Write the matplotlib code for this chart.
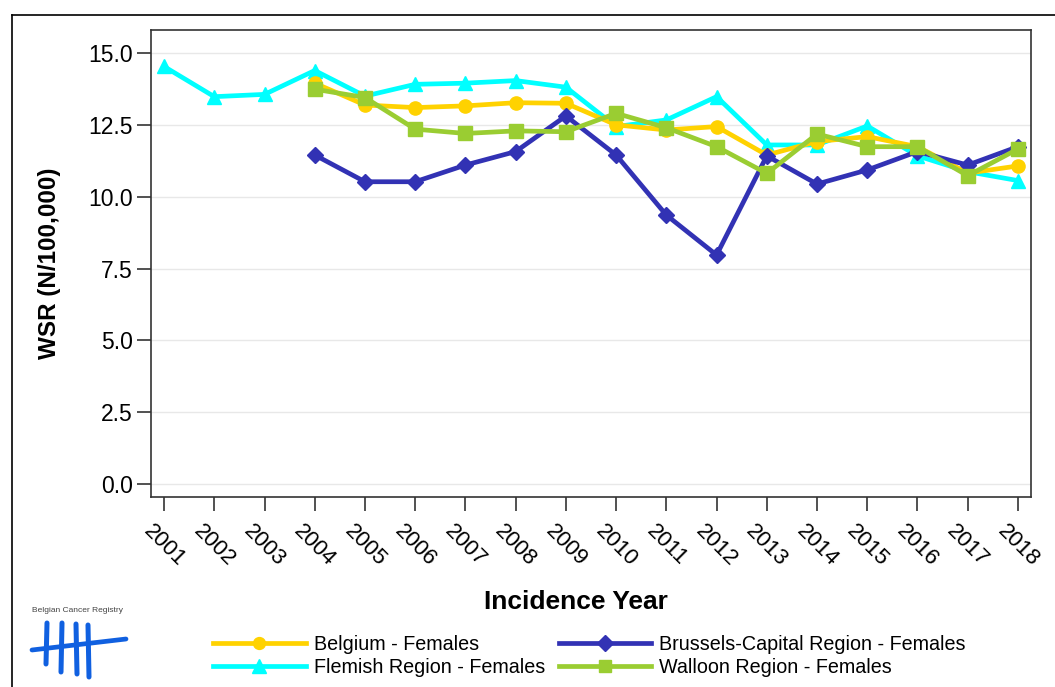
import matplotlib
matplotlib.use("Agg")
import matplotlib.pyplot as plt
from matplotlib.lines import Line2D

plt.rcParams['font.family'] = ['Liberation Sans', 'DejaVu Sans']

years = list(range(2001, 2019))
years_b = list(range(2004, 2019))

belgium = [13.95, 13.19, 13.10, 13.16, 13.27, 13.25, 12.50, 12.32, 12.44, 11.45, 11.92, 12.09, 11.74, 10.82, 11.07]
brussels = [11.45, 10.52, 10.52, 11.10, 11.57, 12.81, 11.45, 9.36, 7.97, 11.42, 10.44, 10.93, 11.57, 11.10, 11.74]
flemish = [14.53, 13.48, 13.56, 14.39, 13.50, 13.91, 13.95, 14.04, 13.81, 12.44, 12.67, 13.48, 11.80, 11.80, 12.46, 11.42, 10.87, 10.56]
walloon = [13.74, 13.45, 12.35, 12.20, 12.29, 12.26, 12.90, 12.40, 11.74, 10.81, 12.18, 11.74, 11.74, 10.73, 11.66]

labels = ["Belgium - Females", "Brussels-Capital Region - Females",
          "Flemish Region - Females", "Walloon Region - Females"]
yticks = [0.0, 2.5, 5.0, 7.5, 10.0, 12.5, 15.0]

c_bel = "#FFD200"
c_bru = "#3232B4"
c_fle = "#00FFFF"
c_wal = "#9ACD32"

W, H = 1055, 687
fig = plt.figure(figsize=(W / 100, H / 100), dpi=100)
ax = fig.add_axes([151 / W, 1 - 497 / H, (1031 - 151) / W, (497 - 30) / H])

lw = 3.4
ms = 9.5
l_fle, = ax.plot(years, flemish, color=c_fle, lw=lw, marker='^', ms=ms + 1, label=labels[2], zorder=3)
l_bel, = ax.plot(years_b, belgium, color=c_bel, lw=lw, marker='o', ms=ms, label=labels[0], zorder=4)
l_bru, = ax.plot(years_b, brussels, color=c_bru, lw=lw, marker='D', ms=ms - 1, label=labels[1], zorder=5)
l_wal, = ax.plot(years_b, walloon, color=c_wal, lw=lw, marker='s', ms=ms, label=labels[3], zorder=6)

ax.set_xlim(2000.74, 2018.26)
ax.set_ylim(-0.45, 15.8)
ax.set_yticks(yticks)
ax.set_yticklabels([f"{v:.1f}" for v in yticks], fontsize=16.5)
ax.set_xticks(years)
ax.set_xticklabels([str(y) for y in years], fontsize=16, rotation=-45,
                   ha='center', va='top')
ax.tick_params(axis='both', direction='out', length=10, width=1.2, color='#333333')
ax.tick_params(axis='x', pad=7)
ax.tick_params(axis='y', pad=3)
ax.yaxis.grid(True, color='#e8e8e8', lw=1)
ax.set_axisbelow(True)
for s in ax.spines.values():
    s.set_color('#333333')
    s.set_linewidth(1.2)

ax.set_ylabel("WSR (N/100,000)", fontsize=17.5, fontweight='bold', labelpad=20)
fig.text(576 / W, 1 - 602 / H, "Incidence Year", fontsize=19, fontweight='bold',
         ha='center', va='center')

leg = fig.legend(handles=[l_bel, l_fle, l_bru, l_wal],
                 labels=[labels[0], labels[2], labels[1], labels[3]],
                 ncol=2, loc='center left', bbox_to_anchor=(213 / W, 1 - 656 / H),
                 frameon=False, fontsize=14.2, handlelength=4.7, handletextpad=0.4,
                 columnspacing=0.7, labelspacing=0.22, borderaxespad=0, borderpad=0,
                 markerscale=0.9)

# outer frame
fig.add_artist(Line2D([12 / W, 12 / W], [0, 1 - 15 / H], transform=fig.transFigure, color='black', lw=1.2))
fig.add_artist(Line2D([12 / W, 1], [1 - 15 / H, 1 - 15 / H], transform=fig.transFigure, color='black', lw=1.2))

# logo
fig.text(78 / W, 1 - 611 / H, "Belgian Cancer Registry", fontsize=6, color='#444444',
         ha='center', va='center')
blue = "#1060E0"
for x0, y0, x1, y1 in [(47, 623, 46, 664), (62, 623, 61, 672), (76, 624, 77, 674), (88, 625, 89, 677)]:
    fig.add_artist(Line2D([x0 / W, x1 / W], [1 - y0 / H, 1 - y1 / H],
                          transform=fig.transFigure, color=blue, lw=3.6, solid_capstyle='round'))
fig.add_artist(Line2D([32 / W, 126 / W], [1 - 650 / H, 1 - 639 / H],
                      transform=fig.transFigure, color=blue, lw=3.4, solid_capstyle='round'))

fig.savefig("out.png", dpi=100)
